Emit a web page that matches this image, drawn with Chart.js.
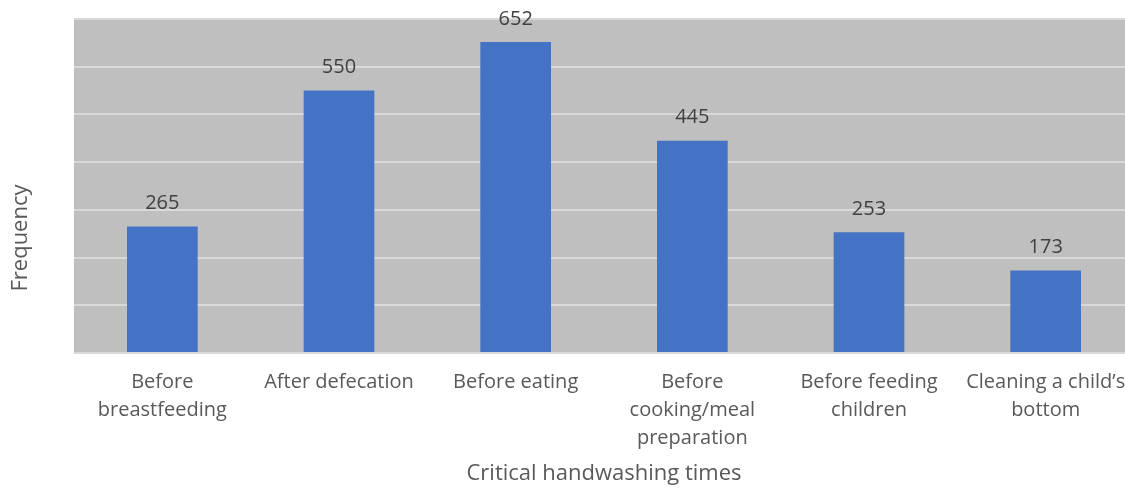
<!DOCTYPE html>
<html>
<head>
<meta charset="utf-8">
<script src="https://cdn.jsdelivr.net/npm/chart.js@4"></script>
<style>
  html, body { margin: 0; padding: 0; background: #fff; overflow: hidden; }
  #wrap { width: 1125px; height: 489px; }
</style>
</head>
<body>
<div id="wrap"><canvas id="handwashChart" width="1125" height="489"></canvas></div>
<script>
// Critical handwashing times
const categories = [
  ["Before", "breastfeeding"],
  "After defecation",
  "Before eating",
  ["Before", "cooking/meal", "preparation"],
  ["Before feeding", "children"],
  ["Cleaning a child\u2019s", "bottom"]
];
const frequency = [265, 550, 652, 445, 253, 173];
const yTicks = [0, 100, 200, 300, 400, 500, 600, 700];

const FONT = "'Open Sans', 'Liberation Sans', sans-serif";
const PLOT_RIGHT = 1134; // plot runs past the right edge in the original

// stretch the plot area past the canvas edge
const overhang = {
  id: "overhang",
  afterLayout(chart) {
    const x = chart.scales.x;
    const extra = PLOT_RIGHT - x.right;
    x.right += extra;
    x.width += extra;
    x.configure();
    chart.chartArea.right += extra;
    chart.chartArea.width += extra;
  }
};

// grey plot background
const plotBg = {
  id: "plotBg",
  beforeDraw(chart) {
    const { ctx, chartArea: a } = chart;
    ctx.save();
    ctx.fillStyle = "#BFBFBF";
    ctx.fillRect(a.left, a.top, a.right - a.left, a.bottom - a.top);
    ctx.restore();
  }
};

// numbers above bars
const barLabels = {
  id: "barLabels",
  afterDatasetsDraw(chart) {
    const ctx = chart.ctx;
    const meta = chart.getDatasetMeta(0);
    ctx.save();
    ctx.font = "20px " + FONT;
    ctx.fillStyle = "#404040";
    ctx.textAlign = "center";
    ctx.textBaseline = "middle";
    meta.data.forEach((bar, i) => {
      ctx.fillText(String(frequency[i]), bar.x, bar.y - 23);
    });
    ctx.restore();
  }
};

// y axis title, centred on the whole figure like the original
const yTitle = {
  id: "yTitle",
  afterDraw(chart) {
    const ctx = chart.ctx;
    ctx.save();
    ctx.translate(21, 238);
    ctx.rotate(-Math.PI / 2);
    ctx.font = "22px " + FONT;
    ctx.fillStyle = "#595959";
    ctx.textAlign = "center";
    ctx.textBaseline = "middle";
    ctx.fillText("Frequency", 0, 0);
    ctx.restore();
  }
};

// x axis title, centred on the canvas
const xTitle = {
  id: "xTitle",
  afterDraw(chart) {
    const ctx = chart.ctx;
    ctx.save();
    ctx.font = "22px " + FONT;
    ctx.fillStyle = "#595959";
    ctx.textAlign = "center";
    ctx.textBaseline = "middle";
    ctx.fillText("Critical handwashing times", 604, 474);
    ctx.restore();
  }
};

new Chart(document.getElementById("handwashChart"), {
  type: "bar",
  data: {
    labels: categories,
    datasets: [{
      data: frequency,
      backgroundColor: "#4472C4",
      borderWidth: 0,
      barPercentage: 0.8,
      categoryPercentage: 0.5
    }]
  },
  options: {
    responsive: false,
    animation: false,
    layout: { padding: { left: 74, top: 19, right: 0, bottom: 0 } },
    plugins: {
      legend: { display: false },
      tooltip: { enabled: false }
    },
    scales: {
      x: {
        grid: { display: false, drawTicks: false },
        border: { display: false },
        ticks: {
          color: "#595959",
          font: { family: FONT, size: 20, lineHeight: 1.4 },
          padding: 15,
          maxRotation: 0,
          autoSkip: false
        },
        afterFit(scale) { scale.height = 136; }
      },
      y: {
        min: 0,
        max: 700,
        afterBuildTicks(scale) { scale.ticks = yTicks.map(v => ({ value: v })); },
        ticks: { display: false },
        grid: { color: "#D9D9D9", lineWidth: 2, drawTicks: false },
        border: { display: false },
        afterFit(scale) { scale.width = 0; }
      }
    }
  },
  plugins: [overhang, plotBg, barLabels, yTitle, xTitle]
});
</script>
</body>
</html>
